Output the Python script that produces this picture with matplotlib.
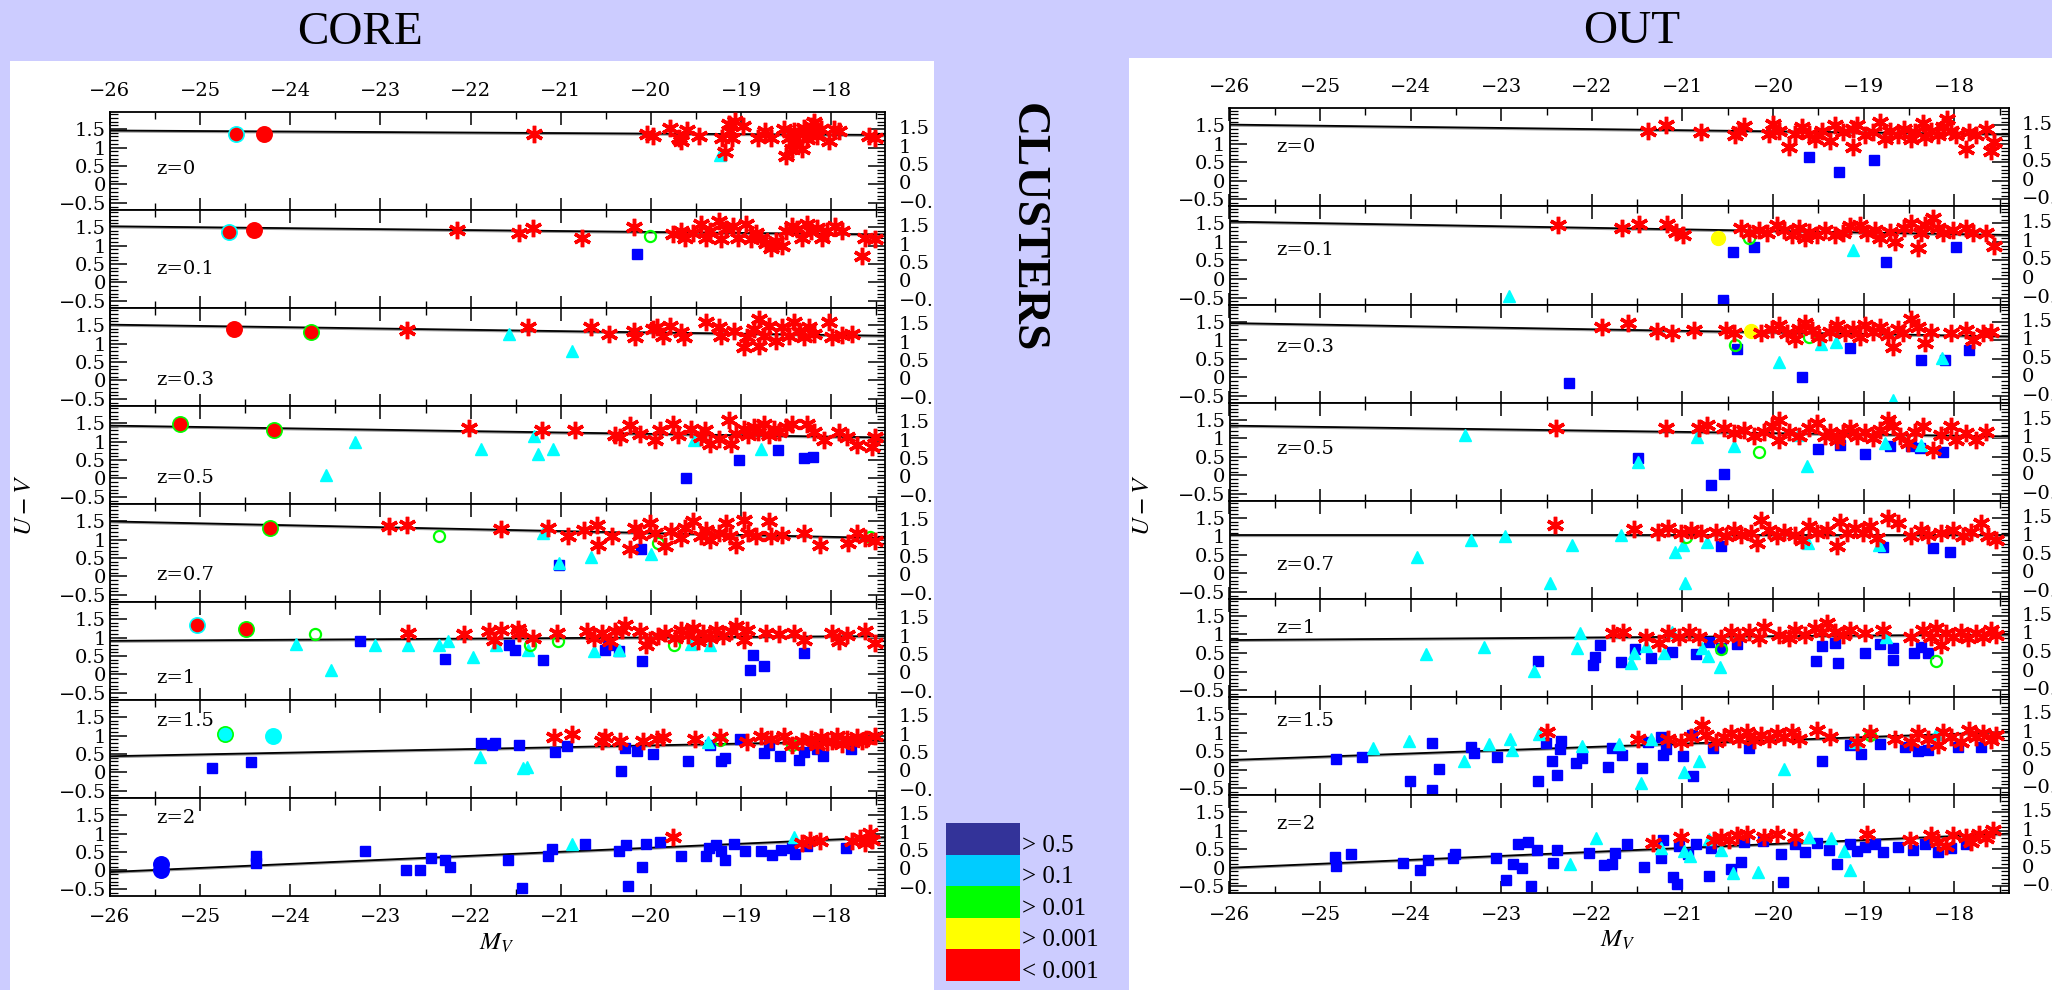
import matplotlib
matplotlib.use("Agg")
import matplotlib.pyplot as plt
from matplotlib.patches import Rectangle
from matplotlib.ticker import MultipleLocator, FuncFormatter

plt.rcParams['mathtext.fontset'] = 'stix'

# etiquetas de los paneles
redshifts = ["0", "0.1", "0.3", "0.5", "0.7", "1", "1.5", "2"]
x_range = [-26, -17.4]
y_range = [-0.69, 1.96]

# recta de ajuste: (U-V en -26, U-V en -17.4)
core_fit = [(1.46, 1.34), (1.52, 1.30), (1.51, 1.21), (1.43, 1.11),
            (1.49, 1.04), (0.91, 1.04), (0.44, 0.86), (-0.04, 0.90)]
out_fit = [(1.52, 1.26), (1.55, 1.19), (1.46, 1.10), (1.34, 1.05),
           (1.04, 1.04), (0.85, 1.00), (0.26, 1.02), (0.00, 0.92)]

# posicion en y de la etiqueta z=...
core_zlabel_y = [0.42, 0.36, 0.0, 0.0, 0.05, -0.09, 1.40, 1.42]
out_zlabel_y = [0.91, 0.79, 0.82, 0.72, 0.23, 1.18, 1.31, 1.19]

# ---------------- CORE ----------------
core_stars_z0 = [(-21.30, 1.36), (-20.04, 1.36), (-19.98, 1.30), (-19.79, 1.52), (-19.69, 1.27),
                 (-19.67, 1.18), (-19.60, 1.48), (-19.47, 1.32), (-19.21, 1.27), (-19.18, 0.87),
                 (-19.14, 1.64), (-19.12, 1.45), (-19.10, 1.27), (-19.07, 1.72), (-18.98, 1.59),
                 (-18.81, 1.27), (-18.73, 1.45), (-18.67, 1.27), (-18.53, 1.50), (-18.50, 0.78),
                 (-18.47, 1.27), (-18.44, 0.96), (-18.41, 1.45), (-18.39, 1.09), (-18.36, 1.36),
                 (-18.33, 0.96), (-18.30, 1.54), (-18.27, 1.23), (-18.25, 1.41), (-18.22, 1.59),
                 (-18.19, 1.68), (-18.16, 1.32), (-18.11, 1.50), (-18.02, 1.18), (-17.97, 1.50),
                 (-17.91, 1.45), (-17.58, 1.32), (-17.52, 1.27)]
core_tri_z0 = [(-19.24, 0.80)]
core_sq_z0 = []
core_gc_z0 = []
core_bcg_z0 = [(-24.60, 1.36, 'red', 'cyan'), (-24.29, 1.36, 'red', 'red')]

core_stars_z01 = [(-22.15, 1.42), (-21.46, 1.35), (-21.31, 1.48), (-20.76, 1.21), (-20.19, 1.51),
                  (-19.76, 1.30), (-19.67, 1.39), (-19.62, 1.21), (-19.53, 1.35), (-19.45, 1.57),
                  (-19.39, 1.21), (-19.34, 1.39), (-19.25, 1.66), (-19.22, 1.17), (-19.17, 1.44),
                  (-19.09, 1.53), (-19.03, 1.21), (-18.95, 1.57), (-18.89, 1.17), (-18.83, 1.35),
                  (-18.78, 1.21), (-18.72, 1.08), (-18.67, 0.94), (-18.61, 1.12), (-18.55, 0.99),
                  (-18.50, 1.39), (-18.44, 1.53), (-18.38, 1.44), (-18.32, 1.21), (-18.27, 1.57),
                  (-18.22, 1.39), (-18.16, 1.48), (-18.10, 1.21), (-18.05, 1.39), (-17.96, 1.53),
                  (-17.88, 1.39), (-17.63, 1.21), (-17.52, 1.17), (-17.66, 0.72)]
core_tri_z01 = []
core_sq_z01 = [(-20.16, 0.78)]
core_gc_z01 = [(-20.01, 1.26)]
core_bcg_z01 = [(-24.68, 1.36, 'red', 'cyan'), (-24.40, 1.42, 'red', 'red')]

core_stars_z03 = [(-22.71, 1.36), (-21.36, 1.44), (-20.67, 1.44), (-20.47, 1.27), (-20.19, 1.35),
                  (-20.18, 1.18), (-19.98, 1.39), (-19.93, 1.45), (-19.87, 1.21), (-19.79, 1.48),
                  (-19.67, 1.30), (-19.63, 1.17), (-19.39, 1.57), (-19.25, 1.45), (-19.22, 1.21),
                  (-19.08, 1.35), (-18.97, 0.90), (-18.94, 1.17), (-18.86, 1.39), (-18.80, 1.66),
                  (-18.80, 0.94), (-18.75, 1.21), (-18.69, 1.48), (-18.61, 1.08), (-18.55, 1.44),
                  (-18.47, 1.21), (-18.41, 1.57), (-18.36, 1.35), (-18.30, 1.17), (-18.25, 1.44),
                  (-18.19, 1.26), (-18.02, 1.57), (-17.99, 1.17), (-17.88, 1.24), (-17.77, 1.27)]
core_tri_z03 = [(-21.58, 1.26), (-20.88, 0.81)]
core_sq_z03 = []
core_gc_z03 = []
core_bcg_z03 = [(-24.63, 1.39, 'red', 'red'), (-23.77, 1.32, 'red', 'lime')]

core_stars_z05 = [(-22.02, 1.37), (-21.21, 1.32), (-20.84, 1.32), (-20.40, 1.17), (-20.34, 1.12),
                  (-20.23, 1.44), (-20.12, 1.21), (-19.95, 1.03), (-19.90, 1.30), (-19.76, 1.48),
                  (-19.70, 1.17), (-19.56, 1.35), (-19.45, 1.12), (-19.40, 1.30), (-19.34, 0.94),
                  (-19.25, 1.08), (-19.14, 1.57), (-19.11, 0.94), (-19.06, 1.21), (-18.97, 1.35),
                  (-18.92, 1.17), (-18.86, 1.39), (-18.81, 1.26), (-18.75, 1.48), (-18.69, 1.17),
                  (-18.64, 1.35), (-18.58, 1.26), (-18.50, 1.39), (-18.44, 1.48), (-18.27, 1.48),
                  (-18.19, 1.26), (-18.08, 1.03), (-17.91, 1.26), (-17.83, 1.12), (-17.72, 0.90),
                  (-17.55, 0.85), (-17.52, 1.12)]
core_tri_z05 = [(-23.28, 0.99), (-23.60, 0.10), (-21.88, 0.81), (-21.30, 1.15), (-21.25, 0.67),
                (-21.09, 0.81), (-19.52, 1.03), (-18.78, 0.81)]
core_sq_z05 = [(-19.61, 0.02), (-19.02, 0.49), (-18.59, 0.76), (-18.30, 0.56), (-18.20, 0.58)]
core_gc_z05 = []
core_bcg_z05 = [(-25.22, 1.46, 'red', 'lime'), (-24.18, 1.32, 'red', 'lime')]

core_stars_z07 = [(-22.91, 1.37), (-22.71, 1.40), (-21.66, 1.28), (-21.14, 1.31), (-20.92, 1.09),
                  (-20.74, 1.27), (-20.60, 1.40), (-20.59, 0.86), (-20.43, 1.09), (-20.23, 0.73),
                  (-20.18, 1.31), (-20.12, 1.13), (-20.01, 1.45), (-19.95, 1.18), (-19.84, 0.82),
                  (-19.78, 1.22), (-19.67, 1.04), (-19.62, 1.31), (-19.53, 1.49), (-19.45, 1.09),
                  (-19.39, 1.27), (-19.34, 1.00), (-19.25, 1.18), (-19.17, 1.45), (-19.12, 1.09),
                  (-19.06, 0.86), (-18.97, 1.54), (-18.92, 1.18), (-18.83, 1.09), (-18.69, 1.49),
                  (-18.67, 1.09), (-18.55, 1.13), (-18.30, 1.18), (-18.13, 0.86), (-17.82, 0.91),
                  (-17.71, 1.18), (-17.63, 1.04), (-17.52, 0.95)]
core_tri_z07 = [(-21.20, 1.18), (-21.02, 0.36), (-20.66, 0.52), (-20.00, 0.61)]
core_sq_z07 = [(-21.02, 0.30), (-20.11, 0.74)]
core_gc_z07 = [(-22.35, 1.10), (-19.92, 0.90), (-17.57, 1.08)]
core_bcg_z07 = [(-24.22, 1.31, 'red', 'lime')]

core_stars_z1 = [(-22.70, 1.12), (-22.07, 1.09), (-21.80, 1.17), (-21.74, 0.94), (-21.66, 1.21),
                 (-21.48, 1.24), (-21.46, 1.12), (-21.31, 0.99), (-21.04, 1.12), (-20.71, 1.17),
                 (-20.63, 1.00), (-20.54, 1.12), (-20.46, 0.90), (-20.40, 1.17), (-20.32, 1.21),
                 (-20.29, 1.35), (-20.12, 1.17), (-20.06, 0.81), (-20.01, 0.94), (-19.92, 1.03),
                 (-19.84, 1.12), (-19.73, 0.99), (-19.67, 1.21), (-19.59, 1.08), (-19.53, 1.26),
                 (-19.48, 0.90), (-19.42, 1.12), (-19.34, 0.99), (-19.28, 1.21), (-19.20, 1.03),
                 (-19.11, 1.17), (-19.06, 1.30), (-18.97, 0.94), (-18.94, 1.21), (-18.72, 1.12),
                 (-18.58, 1.09), (-18.41, 1.12), (-18.30, 0.94), (-17.99, 1.12), (-17.91, 0.90),
                 (-17.83, 1.08), (-17.63, 1.17), (-17.52, 0.85)]
core_tri_z1 = [(-23.94, 0.83), (-23.55, 0.13), (-23.06, 0.81), (-22.70, 0.81), (-22.35, 0.81),
               (-22.25, 0.90), (-21.97, 0.47), (-21.72, 0.81), (-21.36, 0.67), (-20.63, 0.64),
               (-20.36, 0.67), (-19.56, 0.82), (-19.34, 0.81)]
core_sq_z1 = [(-23.23, 0.90), (-22.29, 0.43), (-21.58, 0.81), (-21.51, 0.65), (-21.20, 0.40),
              (-20.51, 0.65), (-20.48, 0.81), (-20.36, 0.63), (-20.10, 0.36), (-18.90, 0.13),
              (-18.87, 0.52), (-18.75, 0.22), (-18.30, 0.58)]
core_gc_z1 = [(-23.73, 1.10), (-21.34, 0.79), (-21.03, 0.91), (-19.74, 0.81)]
core_bcg_z1 = [(-25.04, 1.33, 'red', 'cyan'), (-24.49, 1.23, 'red', 'lime')]

core_stars_z15 = [(-21.08, 0.95), (-20.88, 1.04), (-20.51, 0.95), (-20.54, 0.86), (-20.34, 0.86),
                  (-20.09, 0.86), (-19.93, 0.90), (-19.87, 0.95), (-19.51, 0.90), (-19.24, 0.95),
                  (-18.94, 0.82), (-18.78, 0.98), (-18.67, 0.90), (-18.53, 0.99), (-18.44, 0.73),
                  (-18.33, 0.86), (-18.22, 0.90), (-18.16, 0.73), (-18.11, 0.95), (-18.05, 0.82),
                  (-17.99, 0.86), (-17.94, 0.99), (-17.88, 0.77), (-17.83, 0.90), (-17.77, 0.82),
                  (-17.72, 0.95), (-17.66, 0.86), (-17.61, 0.90), (-17.52, 0.99)]
core_tri_z15 = [(-21.90, 0.41), (-21.42, 0.11), (-21.37, 0.16), (-19.37, 0.83)]
core_sq_z15 = [(-24.87, 0.11), (-24.44, 0.27), (-21.89, 0.80), (-21.76, 0.73), (-21.73, 0.80),
               (-21.46, 0.74), (-21.06, 0.55), (-20.93, 0.71), (-20.29, 0.65), (-20.33, 0.05),
               (-20.16, 0.57), (-19.98, 0.50), (-19.59, 0.32), (-19.34, 0.73), (-19.22, 0.32),
               (-19.18, 0.38), (-19.01, 0.91), (-18.75, 0.53), (-18.69, 0.73), (-18.57, 0.45),
               (-18.36, 0.34), (-18.30, 0.55), (-18.16, 0.64), (-18.09, 0.45), (-17.78, 0.64)]
core_gc_z15 = [(-19.24, 0.89), (-18.44, 0.74)]
core_bcg_z15 = [(-24.72, 1.04, 'cyan', 'lime'), (-24.19, 0.98, 'cyan', 'cyan')]

core_stars_z2 = [(-19.76, 0.90), (-18.33, 0.74), (-18.24, 0.83), (-18.13, 0.79), (-17.77, 0.79),
                 (-17.68, 0.88), (-17.63, 0.74), (-17.57, 1.01), (-17.55, 0.83)]
core_tri_z2 = [(-20.88, 0.72), (-18.41, 0.90)]
core_sq_z2 = [(-24.38, 0.38), (-24.38, 0.20), (-23.17, 0.54), (-22.72, 0.00), (-22.56, 0.00),
              (-22.44, 0.34), (-22.29, 0.29), (-22.23, 0.09), (-21.59, 0.27), (-21.43, -0.47),
              (-21.14, 0.38), (-21.10, 0.59), (-20.73, 0.72), (-20.35, 0.52), (-20.28, 0.70),
              (-20.26, -0.43), (-20.10, 0.09), (-20.06, 0.72), (-19.90, 0.76), (-19.67, 0.38),
              (-19.39, 0.38), (-19.36, 0.60), (-19.28, 0.70), (-19.22, 0.52), (-19.18, 0.29),
              (-19.08, 0.72), (-18.96, 0.52), (-18.78, 0.52), (-18.66, 0.43), (-18.56, 0.56),
              (-18.44, 0.61), (-18.40, 0.45), (-18.27, 0.65), (-17.84, 0.61)]
core_gc_z2 = []
core_bcg_z2 = [(-25.43, 0.18, 'blue', 'blue'), (-25.43, 0.00, 'blue', 'blue')]

# ---------------- OUT ----------------
out_stars_z0 = [(-21.38, 1.36), (-21.18, 1.50), (-20.79, 1.32), (-20.42, 1.23), (-20.38, 1.36),
                (-20.32, 1.48), (-20.04, 1.27), (-20.00, 1.54), (-19.93, 1.36), (-19.82, 0.91),
                (-19.76, 1.27), (-19.68, 1.45), (-19.60, 1.27), (-19.54, 1.14), (-19.46, 1.36),
                (-19.37, 1.09), (-19.32, 1.50), (-19.23, 1.32), (-19.12, 0.91), (-19.12, 1.41),
                (-19.07, 1.50), (-18.98, 1.23), (-18.90, 1.32), (-18.82, 1.59), (-18.76, 1.14),
                (-18.71, 1.36), (-18.62, 1.23), (-18.56, 1.41), (-18.48, 1.14), (-18.43, 1.32),
                (-18.34, 1.55), (-18.32, 1.18), (-18.26, 1.36), (-18.18, 1.23), (-18.12, 1.45),
                (-18.08, 1.68), (-18.04, 1.36), (-17.98, 1.23), (-17.87, 0.87), (-17.84, 1.32),
                (-17.76, 1.23), (-17.65, 1.41), (-17.59, 0.82), (-17.56, 1.05)]
out_tri_z0 = []
out_sq_z0 = [(-19.60, 0.64), (-19.27, 0.24), (-18.89, 0.57)]
out_gc_z0 = []
out_yc_z0 = []

out_stars_z01 = [(-22.37, 1.46), (-21.67, 1.37), (-21.48, 1.48), (-21.17, 1.48), (-21.07, 1.28),
                 (-20.99, 1.19), (-20.35, 1.37), (-20.27, 1.24), (-20.15, 1.33), (-20.07, 1.24),
                 (-19.96, 1.46), (-19.88, 1.33), (-19.79, 1.19), (-19.71, 1.37), (-19.65, 1.10),
                 (-19.60, 1.28), (-19.51, 1.19), (-19.43, 1.33), (-19.32, 1.19), (-19.23, 1.24),
                 (-19.15, 1.42), (-19.04, 1.46), (-18.96, 1.24), (-18.87, 1.33), (-18.82, 1.10),
                 (-18.71, 1.28), (-18.65, 1.01), (-18.56, 1.37), (-18.48, 1.51), (-18.40, 0.83),
                 (-18.37, 1.24), (-18.32, 1.46), (-18.23, 1.64), (-18.18, 1.37), (-18.12, 1.24),
                 (-18.01, 1.33), (-17.87, 1.37), (-17.79, 1.24), (-17.65, 1.24), (-17.56, 0.88)]
out_tri_z01 = [(-22.91, -0.47), (-19.12, 0.79)]
out_sq_z01 = [(-20.55, -0.56), (-20.44, 0.72), (-20.21, 0.86), (-18.75, 0.47), (-17.98, 0.86)]
out_gc_z01 = [(-20.27, 1.10)]
out_yc_z01 = [(-20.61, 1.12)]

out_stars_z03 = [(-21.89, 1.36), (-21.60, 1.46), (-21.28, 1.25), (-21.12, 1.18), (-20.87, 1.28),
                 (-20.52, 1.28), (-20.43, 1.18), (-20.13, 1.19), (-20.01, 1.31), (-19.93, 1.40),
                 (-19.85, 1.18), (-19.76, 1.04), (-19.71, 1.31), (-19.65, 1.45), (-19.57, 1.27),
                 (-19.49, 1.09), (-19.37, 1.22), (-19.29, 1.40), (-19.21, 1.18), (-19.12, 1.31),
                 (-19.04, 1.09), (-18.98, 1.40), (-18.90, 1.22), (-18.82, 1.36), (-18.73, 1.13),
                 (-18.68, 0.82), (-18.62, 1.31), (-18.57, 1.18), (-18.48, 1.58), (-18.40, 1.36),
                 (-18.32, 0.91), (-18.26, 1.22), (-18.04, 1.18), (-17.87, 1.27), (-17.79, 1.00),
                 (-17.68, 1.18), (-17.59, 1.22)]
out_tri_z03 = [(-19.93, 0.41), (-19.47, 0.89), (-19.31, 0.95), (-18.68, -0.63), (-18.14, 0.52)]
out_sq_z03 = [(-22.25, -0.16), (-20.40, 0.75), (-19.68, 0.00), (-19.15, 0.79), (-18.37, 0.46),
              (-18.10, 0.47), (-17.84, 0.73)]
out_gc_z03 = [(-20.42, 0.88), (-19.60, 1.09)]
out_yc_z03 = [(-20.24, 1.24)]

out_stars_z05 = [(-22.40, 1.28), (-21.18, 1.28), (-20.82, 1.28), (-20.73, 1.36), (-20.54, 1.28),
                 (-20.43, 1.14), (-20.32, 1.23), (-20.21, 1.05), (-20.10, 1.18), (-20.01, 1.32),
                 (-19.93, 1.50), (-19.93, 0.96), (-19.82, 1.18), (-19.71, 1.05), (-19.60, 1.28),
                 (-19.51, 1.41), (-19.43, 1.05), (-19.37, 1.18), (-19.29, 0.96), (-19.23, 1.14),
                 (-19.15, 1.28), (-19.07, 1.05), (-18.98, 1.18), (-18.90, 1.01), (-18.82, 1.23),
                 (-18.73, 1.50), (-18.68, 1.32), (-18.60, 1.05), (-18.51, 0.87), (-18.43, 1.18),
                 (-18.34, 1.32), (-18.23, 0.69), (-18.15, 1.09), (-18.04, 1.32), (-17.98, 0.96),
                 (-17.87, 1.14), (-17.76, 0.96), (-17.65, 1.18)]
out_tri_z05 = [(-23.40, 1.09), (-21.49, 0.37), (-20.84, 1.03), (-20.43, 0.78), (-19.62, 0.24),
               (-19.73, 1.09), (-18.37, 0.82), (-18.76, 0.87)]
out_sq_z05 = [(-21.49, 0.46), (-20.68, -0.26), (-20.54, 0.04), (-19.50, 0.71), (-19.26, 0.81),
              (-18.98, 0.57), (-18.71, 0.78), (-18.48, 0.78), (-18.38, 0.73), (-18.12, 0.64)]
out_gc_z05 = [(-20.15, 0.64)]
out_yc_z05 = []

out_stars_z07 = [(-22.41, 1.31), (-21.53, 1.19), (-21.27, 1.13), (-21.16, 1.22), (-21.02, 1.09),
                 (-20.91, 1.18), (-20.79, 1.09), (-20.63, 1.13), (-20.52, 1.00), (-20.43, 1.18),
                 (-20.35, 1.04), (-20.24, 1.09), (-20.18, 0.82), (-20.13, 1.45), (-20.04, 1.18),
                 (-19.96, 1.00), (-19.88, 1.13), (-19.76, 1.04), (-19.68, 0.91), (-19.60, 1.27),
                 (-19.51, 1.09), (-19.40, 1.18), (-19.29, 0.73), (-19.26, 1.40), (-19.18, 1.09),
                 (-19.09, 1.22), (-19.01, 1.09), (-18.93, 1.27), (-18.85, 0.96), (-18.73, 1.49),
                 (-18.62, 1.36), (-18.48, 1.00), (-18.37, 1.18), (-18.29, 1.04), (-18.15, 1.09),
                 (-18.01, 1.18), (-17.90, 1.00), (-17.82, 1.13), (-17.71, 1.36), (-17.63, 1.00),
                 (-17.54, 0.91)]
out_tri_z07 = [(-23.93, 0.44), (-23.33, 0.89), (-22.96, 1.02), (-22.46, -0.27), (-22.22, 0.77),
               (-21.68, 1.04), (-21.08, 0.59), (-20.99, 0.77), (-20.97, -0.27), (-20.73, 0.86),
               (-19.61, 0.82), (-18.83, 0.77)]
out_sq_z07 = [(-20.58, 0.74), (-18.79, 0.71), (-18.23, 0.68), (-18.05, 0.57)]
out_gc_z07 = [(-20.96, 0.99)]
out_yc_z07 = []

out_stars_z1 = [(-21.77, 1.03), (-21.66, 1.08), (-21.40, 0.94), (-21.26, 0.76), (-21.16, 1.03),
                (-21.04, 0.94), (-20.93, 1.06), (-20.82, 0.94), (-20.57, 0.90), (-20.46, 1.08),
                (-20.38, 0.94), (-20.27, 1.08), (-20.15, 0.90), (-20.10, 1.21), (-19.93, 0.99),
                (-19.82, 0.90), (-19.76, 1.12), (-19.65, 0.99), (-19.54, 1.17), (-19.46, 1.08),
                (-19.40, 1.30), (-19.32, 1.08), (-19.23, 0.99), (-19.15, 1.12), (-18.98, 1.03),
                (-18.79, 1.12), (-18.48, 0.94), (-18.34, 1.12), (-18.26, 0.94), (-18.20, 1.17),
                (-18.15, 0.72), (-18.09, 1.03), (-18.01, 0.94), (-17.93, 1.08), (-17.85, 0.90),
                (-17.76, 1.03), (-17.68, 0.94), (-17.59, 1.12), (-17.54, 0.99)]
out_tri_z1 = [(-23.83, 0.48), (-23.19, 0.67), (-22.64, 0.02), (-22.16, 0.64), (-22.13, 1.05),
              (-21.57, 0.24), (-21.53, 0.49), (-21.40, 0.69), (-21.20, 0.49), (-20.78, 0.63),
              (-20.72, 0.43), (-20.59, 0.11), (-18.75, 0.94), (-21.11, 1.08)]
out_sq_z1 = [(-22.60, 0.28), (-21.99, 0.18), (-21.96, 0.38), (-21.91, 0.72), (-21.68, 0.27),
             (-21.52, 0.60), (-21.35, 0.36), (-21.11, 0.52), (-20.85, 0.46), (-20.71, 0.81),
             (-20.57, 0.63), (-20.40, 0.73), (-19.53, 0.29), (-19.46, 0.70), (-19.32, 0.76),
             (-19.28, 0.22), (-18.98, 0.49), (-18.82, 0.73), (-18.68, 0.63), (-18.68, 0.31),
             (-18.44, 0.51), (-18.37, 0.67), (-18.29, 0.49)]
out_gc_z1 = [(-20.58, 0.60), (-18.20, 0.29)]
out_yc_z1 = []

out_stars_z15 = [(-22.49, 1.02), (-21.49, 0.84), (-21.16, 0.84), (-21.02, 0.75), (-20.91, 0.89),
                 (-20.78, 1.20), (-20.74, 0.93), (-20.63, 0.75), (-20.54, 0.89), (-20.46, 0.98),
                 (-20.38, 0.84), (-20.29, 1.02), (-20.21, 0.80), (-20.13, 0.93), (-20.04, 0.84),
                 (-19.96, 0.98), (-19.88, 0.89), (-19.79, 1.02), (-19.71, 0.84), (-19.51, 1.07),
                 (-19.37, 0.89), (-19.07, 0.75), (-18.93, 0.98), (-18.65, 0.84), (-18.48, 0.75),
                 (-18.40, 0.98), (-18.29, 0.84), (-18.18, 0.66), (-18.12, 1.02), (-18.04, 0.89),
                 (-17.93, 0.75), (-17.84, 1.07), (-17.76, 0.89), (-17.68, 0.98), (-17.59, 0.80),
                 (-17.54, 0.93)]
out_tri_z15 = [(-24.42, 0.59), (-24.02, 0.77), (-23.41, 0.23), (-23.14, 0.69), (-22.90, 0.84),
               (-22.88, 0.53), (-22.58, 0.95), (-22.11, 0.64), (-21.70, 0.68), (-21.46, -0.37),
               (-21.35, 0.84), (-20.98, -0.07), (-20.82, 0.23), (-19.88, 0.03), (-19.10, 0.75),
               (-18.20, 0.95)]
out_sq_z15 = [(-24.82, 0.30), (-24.54, 0.33), (-24.01, -0.31), (-23.76, 0.71), (-23.76, -0.55),
              (-23.69, 0.03), (-23.33, 0.62), (-23.30, 0.46), (-23.05, 0.33), (-22.59, -0.30),
              (-22.51, 0.71), (-22.44, 0.24), (-22.38, -0.14), (-22.34, 0.77), (-22.35, 0.57),
              (-22.17, 0.17), (-22.11, 0.32), (-21.82, 0.08), (-21.78, 0.59), (-21.67, 0.39),
              (-21.45, 0.05), (-21.38, 0.75), (-21.24, 0.89), (-21.21, 0.39), (-21.18, 0.57),
              (-20.99, 0.37), (-20.89, 0.93), (-20.88, -0.18), (-20.66, 0.59), (-20.27, 0.59),
              (-19.46, 0.24), (-19.15, 0.66), (-19.03, 0.41), (-18.82, 0.69), (-18.54, 0.62),
              (-18.40, 0.51), (-18.29, 0.53), (-17.96, 0.62), (-17.70, 0.62)]
out_gc_z15 = [(-18.93, 0.93)]
out_yc_z15 = []

out_stars_z2 = [(-21.32, 0.68), (-21.02, 0.83), (-20.65, 0.74), (-20.57, 0.83), (-20.49, 0.74),
                (-20.40, 0.88), (-20.29, 0.92), (-20.10, 0.83), (-19.96, 0.90), (-19.76, 0.83),
                (-18.96, 0.92), (-18.49, 0.74), (-18.26, 0.88), (-18.18, 0.70), (-18.09, 0.59),
                (-18.01, 0.88), (-17.87, 0.83), (-17.82, 0.70), (-17.73, 0.92), (-17.65, 0.79),
                (-17.57, 1.01)]
out_tri_z2 = [(-22.24, 0.11), (-21.95, 0.81), (-21.24, 0.54), (-20.98, 0.45), (-20.92, 0.32),
              (-20.57, 0.47), (-20.44, -0.13), (-20.17, -0.11), (-19.60, 0.83), (-19.36, 0.81),
              (-19.22, 0.45), (-19.15, -0.07), (-20.71, 0.78)]
out_sq_z2 = [(-24.84, 0.29), (-24.82, 0.05), (-24.66, 0.38), (-24.08, 0.13), (-23.90, -0.07),
             (-23.81, 0.22), (-23.53, 0.25), (-23.51, 0.36), (-23.06, 0.27), (-22.95, -0.34),
             (-22.87, 0.09), (-22.82, 0.65), (-22.77, -0.01), (-22.71, 0.70), (-22.67, -0.50),
             (-22.61, 0.49), (-22.43, 0.14), (-22.38, 0.47), (-22.03, 0.41), (-21.87, 0.07),
             (-21.78, 0.11), (-21.75, 0.41), (-21.61, 0.63), (-21.43, 0.02), (-21.24, 0.27),
             (-21.22, 0.74), (-21.10, -0.26), (-21.06, -0.43), (-21.04, 0.59), (-20.94, 0.38),
             (-20.85, 0.65), (-20.71, -0.21), (-20.68, 0.52), (-20.46, -0.04), (-20.35, 0.16),
             (-20.32, 0.70), (-20.11, 0.72), (-19.91, 0.36), (-19.89, -0.38), (-19.76, 0.63),
             (-19.65, 0.43), (-19.51, 0.68), (-19.38, 0.47), (-19.29, 0.09), (-19.15, 0.63),
             (-19.07, 0.45), (-18.98, 0.56), (-18.87, 0.63), (-18.79, 0.43), (-18.62, 0.56),
             (-18.45, 0.47), (-18.32, 0.65), (-18.18, 0.43), (-18.04, 0.52), (-17.87, 0.63)]
out_gc_z2 = []
out_yc_z2 = []

core_stars = [core_stars_z0, core_stars_z01, core_stars_z03, core_stars_z05,
              core_stars_z07, core_stars_z1, core_stars_z15, core_stars_z2]
core_tri = [core_tri_z0, core_tri_z01, core_tri_z03, core_tri_z05,
            core_tri_z07, core_tri_z1, core_tri_z15, core_tri_z2]
core_sq = [core_sq_z0, core_sq_z01, core_sq_z03, core_sq_z05,
           core_sq_z07, core_sq_z1, core_sq_z15, core_sq_z2]
core_gc = [core_gc_z0, core_gc_z01, core_gc_z03, core_gc_z05,
           core_gc_z07, core_gc_z1, core_gc_z15, core_gc_z2]
core_bcg = [core_bcg_z0, core_bcg_z01, core_bcg_z03, core_bcg_z05,
            core_bcg_z07, core_bcg_z1, core_bcg_z15, core_bcg_z2]

out_stars = [out_stars_z0, out_stars_z01, out_stars_z03, out_stars_z05,
             out_stars_z07, out_stars_z1, out_stars_z15, out_stars_z2]
out_tri = [out_tri_z0, out_tri_z01, out_tri_z03, out_tri_z05,
           out_tri_z07, out_tri_z1, out_tri_z15, out_tri_z2]
out_sq = [out_sq_z0, out_sq_z01, out_sq_z03, out_sq_z05,
          out_sq_z07, out_sq_z1, out_sq_z15, out_sq_z2]
out_gc = [out_gc_z0, out_gc_z01, out_gc_z03, out_gc_z05,
          out_gc_z07, out_gc_z1, out_gc_z15, out_gc_z2]
out_yc = [out_yc_z0, out_yc_z01, out_yc_z03, out_yc_z05,
          out_yc_z07, out_yc_z1, out_yc_z15, out_yc_z2]

legend_labels = ["> 0.5", "> 0.1", "> 0.01", "> 0.001", "< 0.001"]
legend_colors = ["#333399", "#00CCFF", "#00FF00", "#FFFF00", "#FF0000"]

W, H = 2052, 990
BG = "#CCCCFF"
TICKFONT = "DejaVu Serif"


def fmt(v, pos=None):
    return ("%g" % v).replace("-", "\u2212")


def xy(pts):
    return [p[0] for p in pts], [p[1] for p in pts]


def draw_panel(ax, i, fit, zlab_y, stars, tri, sq, gc, yc=None, bcg=None, first=False, last=False):
    ax.set_xlim(x_range)
    ax.set_ylim(y_range)
    # recta con una sombra gris debajo
    ax.plot(x_range, [v - 0.025 for v in fit], color="0.6", lw=1.6, zorder=2)
    ax.plot(x_range, fit, color="black", lw=1.3, zorder=2)
    if sq:
        ax.plot(*xy(sq), ls="none", marker="s", ms=7, color="#0000FF", zorder=3)
    if tri:
        ax.plot(*xy(tri), ls="none", marker="^", ms=8.5, color="#00FFFF", zorder=4)
    if gc:
        ax.plot(*xy(gc), ls="none", marker="o", ms=8, mfc="none", mec="#00FF00", mew=1.6, zorder=5)
    if yc:
        ax.plot(*xy(yc), ls="none", marker="o", ms=10, color="#FFFF00", zorder=5)
    if stars:
        ax.plot(*xy(stars), ls="none", marker=(6, 2, 0), ms=12.5, mew=2.5, color="red", zorder=6)
    if bcg:
        for bx, by, fc, ec in bcg:
            ax.plot([bx], [by], ls="none", marker="o", ms=11, mfc=fc, mec=ec, mew=1.2, zorder=7)
    ax.text(-25.49, zlab_y, "z=" + redshifts[i], fontsize=14, family=TICKFONT, va="center", zorder=8)

    ax.xaxis.set_major_locator(MultipleLocator(1))
    ax.xaxis.set_minor_locator(MultipleLocator(0.5))
    ax.yaxis.set_major_locator(MultipleLocator(0.5))
    ax.yaxis.set_minor_locator(MultipleLocator(0.1))
    ax.xaxis.set_major_formatter(FuncFormatter(fmt))
    ax.yaxis.set_major_formatter(FuncFormatter(fmt))
    ax.tick_params(which="both", direction="in", top=True, right=True, bottom=True, left=True,
                   labelright=False, labeltop=first, labelbottom=last, labelsize=14)
    ax.tick_params(axis="x", which="major", length=9, width=1.1, pad=9)
    ax.tick_params(axis="x", which="minor", length=5, width=1.0)
    ax.tick_params(axis="y", which="major", length=12, width=1.1, pad=3)
    ax.tick_params(axis="y", which="minor", length=6, width=0.9)
    for lbl in ax.get_xticklabels() + ax.get_yticklabels():
        lbl.set_family(TICKFONT)
    for sp in ax.spines.values():
        sp.set_linewidth(1.3)
    for v in [-0.5, 0, 0.5, 1, 1.5]:
        ax.text(1.017, v, fmt(v), transform=ax.get_yaxis_transform(), ha="left", va="center",
                fontsize=14, family=TICKFONT, clip_on=False)


fig = plt.figure(figsize=(W / 100, H / 100), dpi=100)
fig.patch.set_facecolor(BG)

# paneles blancos
fig.add_artist(Rectangle((10 / W, 0), (934 - 10) / W, 1 - 61 / H, transform=fig.transFigure,
                         facecolor="white", edgecolor="none", zorder=-5))
fig.add_artist(Rectangle((1129 / W, 0), (W - 1129) / W, 1 - 58 / H, transform=fig.transFigure,
                         facecolor="white", edgecolor="none", zorder=-5))

# CORE
c_left, c_right, c_top, c_ph = 110, 885.4, 112, 98
for i in range(8):
    bottom = 1 - (c_top + c_ph * (i + 1)) / H
    ax = fig.add_axes([c_left / W, bottom, (c_right - c_left) / W, c_ph / H])
    draw_panel(ax, i, core_fit[i], core_zlabel_y[i], core_stars[i], core_tri[i], core_sq[i],
               core_gc[i], bcg=core_bcg[i], first=(i == 0), last=(i == 7))

# OUT
o_left, o_right, o_top, o_ph = 1229.5, 2008.6, 108.3, 98.125
for i in range(8):
    bottom = 1 - (o_top + o_ph * (i + 1)) / H
    ax = fig.add_axes([o_left / W, bottom, (o_right - o_left) / W, o_ph / H])
    draw_panel(ax, i, out_fit[i], out_zlabel_y[i], out_stars[i], out_tri[i], out_sq[i],
               out_gc[i], yc=out_yc[i], first=(i == 0), last=(i == 7))

# franja central que tapa las etiquetas derechas del CORE
fig.add_artist(Rectangle((934 / W, 0), (1129 - 934) / W, 1, transform=fig.transFigure,
                         facecolor=BG, edgecolor="none", zorder=20))

# titulos
fig.text(360 / W, 1 - 33 / H, "CORE", ha="center", va="center", fontsize=34,
         family="Liberation Serif", zorder=21)
fig.text(1632 / W, 1 - 32 / H, "OUT", ha="center", va="center", fontsize=34,
         family="Liberation Serif", zorder=21)
fig.text(1027 / W, 1 - 228 / H, "CLUSTERS", ha="center", va="center", rotation=-90, fontsize=34,
         fontweight="bold", family="Liberation Serif", zorder=21)

# ejes
fig.text(24 / W, 1 - 505 / H, r"$U-V$", rotation=90, ha="center", va="center", fontsize=18)
fig.text(1142 / W, 1 - 505 / H, r"$U-V$", rotation=90, ha="center", va="center", fontsize=18)
fig.text(497 / W, 1 - 943 / H, r"$M_V$", ha="center", va="center", fontsize=18)
fig.text(1618 / W, 1 - 940 / H, r"$M_V$", ha="center", va="center", fontsize=18)

# leyenda de colores
box_top = 823
box_h = 31.5
for k, (lab, col) in enumerate(zip(legend_labels, legend_colors)):
    y0 = box_top + k * box_h
    fig.add_artist(Rectangle((946 / W, 1 - (y0 + box_h) / H), 74 / W, box_h / H,
                             transform=fig.transFigure, facecolor=col, edgecolor="none", zorder=21))
    fig.text(1022 / W, 1 - (y0 + box_h * 0.72) / H, lab, ha="left", va="center", fontsize=18,
             family="Liberation Serif", zorder=22)

fig.savefig("out.png", dpi=100, facecolor=BG)
